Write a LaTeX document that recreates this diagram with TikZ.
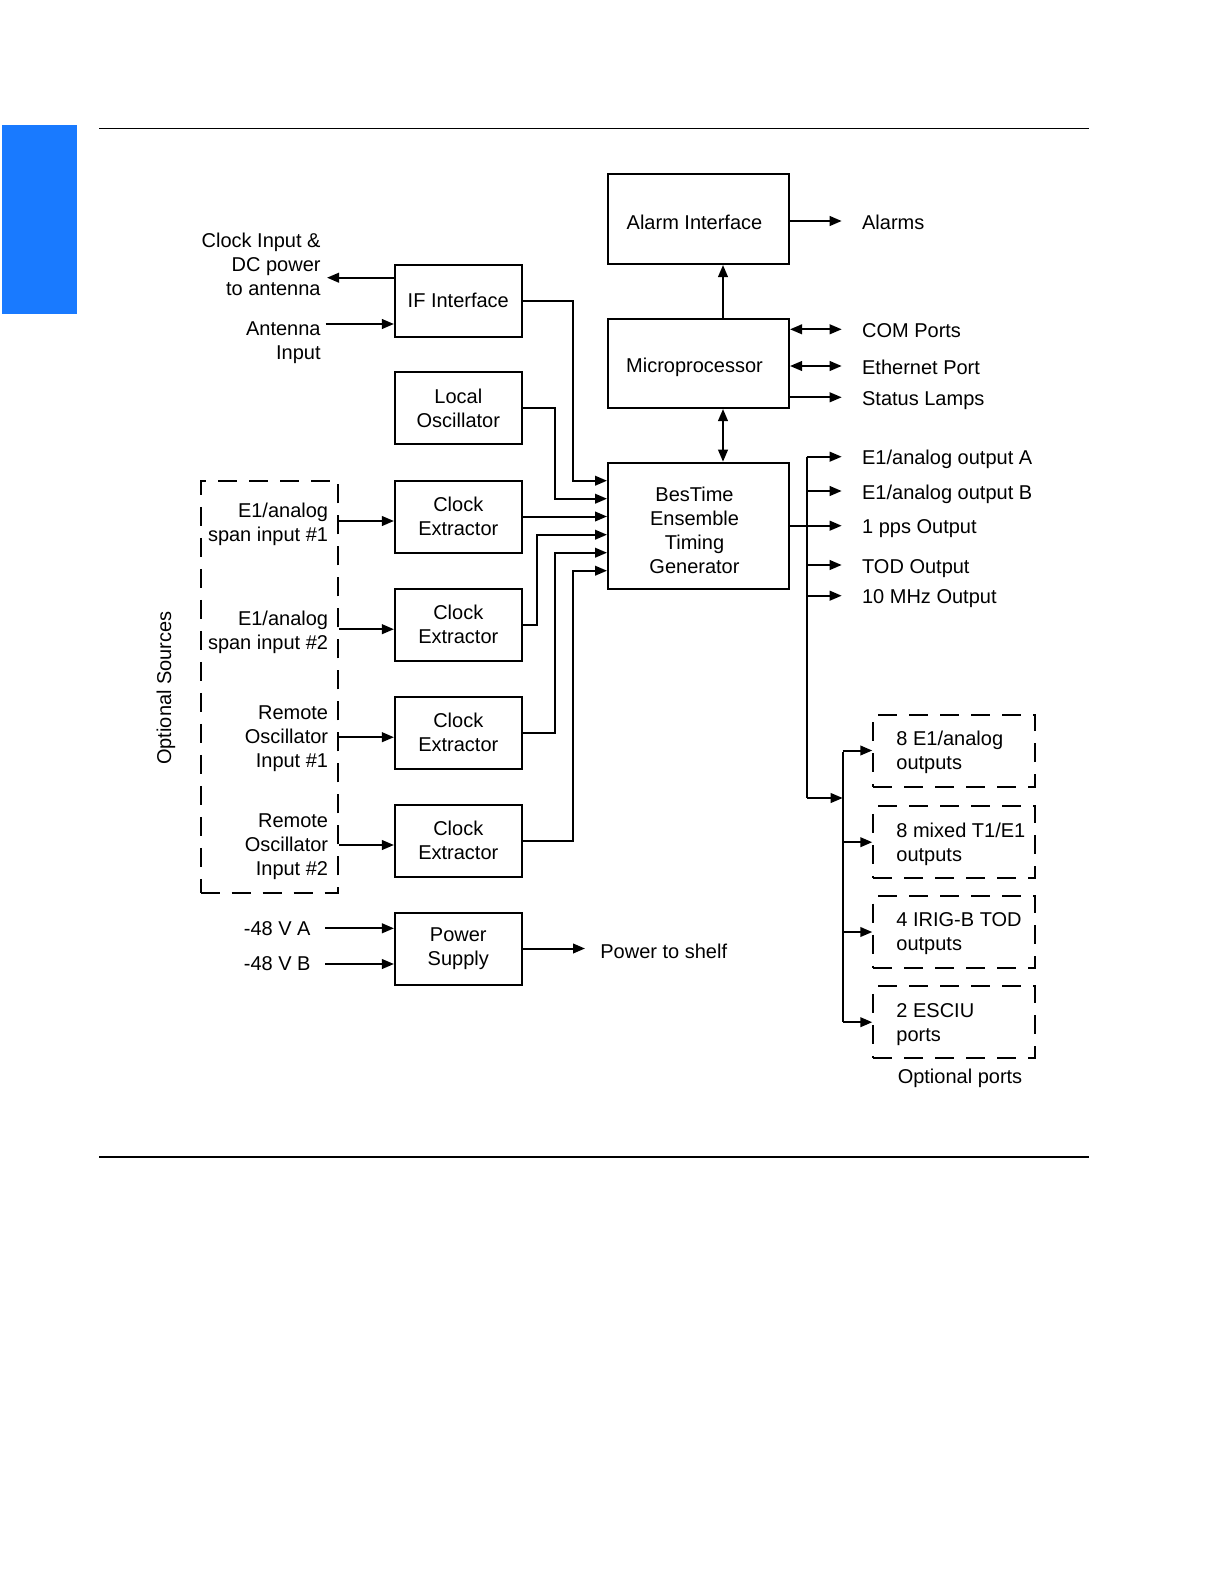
\documentclass[tikz,border=0pt]{standalone}
\usepackage{fontspec}
\setmainfont{Liberation Sans}
\usetikzlibrary{arrows.meta}
\definecolor{tabblue}{RGB}{25,122,255}
\tikzset{
  txt/.style={font=\fontsize{10}{12}\selectfont, inner sep=0pt},
  blk/.style={txt, draw, line width=1pt, align=center},
  lbox/.style={blk, minimum width=63.35pt, minimum height=36pt},
  rbox/.style={blk, minimum width=90.5pt},
  wire/.style={line width=1pt},
  conn/.style={wire, -{Triangle[length=6pt,width=4.8pt]}},
  dconn/.style={wire, {Triangle[length=6pt,width=4.8pt]}-{Triangle[length=6pt,width=4.8pt]}},
  dashbox/.style={draw, line width=1pt, dash pattern=on 9.5pt off 6pt, inner sep=0pt},
  dbox/.style={dashbox, minimum width=80.85pt, minimum height=36pt},
  lbl/.style={txt, anchor=mid west, yshift=-1.5pt},
  rtxt/.style={txt, align=center},
}
\begin{document}
\begin{tikzpicture}[x=0.5pt,y=-0.5pt]
\useasboundingbox (0,0) rectangle (1224,1584);
% page decoration
\fill[tabblue] (2,125) rectangle (77,313.7);
\draw[line width=0.7pt] (99,128.7) -- (1089,128.7);
\draw[line width=0.7pt] (99,1157) -- (1089,1157);

% left column boxes
\node[lbox] (ifb) at (458.3,300.5) {IF Interface};
\node[lbox] (lo)  at (458.3,408.3) {Local\\Oscillator};
\node[lbox] (ce1) at (458.3,516.5) {Clock\\Extractor};
\node[lbox] (ce2) at (458.3,624.7) {Clock\\Extractor};
\node[lbox] (ce3) at (458.3,732.7) {Clock\\Extractor};
\node[lbox] (ce4) at (458.3,840.5) {Clock\\Extractor};
\node[lbox] (ps)  at (458.3,948.5) {Power\\Supply};

% right column boxes
\node[rbox, minimum height=45pt]   (al) at (698.5,219)   {};
\node[rbox, minimum height=44.5pt] (mp) at (698.5,363.5) {};
\node[rbox, minimum height=63pt]   (bt) at (698.5,525.7) {};
\node[rtxt] (alt) at ([xshift=-2pt,yshift=-1.5pt]al.center) {Alarm Interface};
\node[rtxt] (mpt) at ([xshift=-2pt,yshift=-2pt]mp.center) {Microprocessor};
\node[rtxt] (btt) at ([xshift=-2pt,yshift=-2.5pt]bt.center) {BesTime\\Ensemble\\Timing\\Generator};

% optional sources
\node[dashbox, minimum width=68.65pt, minimum height=206.15pt] (opt) at (269.35,686.85) {};
\node[txt, rotate=90] (optl) at (166,688) {Optional Sources};
\node[txt, anchor=east, align=right] (s1) at (328.5,524) {E1/analog\\span input \#1};
\node[txt, anchor=east, align=right] (s2) at (328.5,632) {E1/analog\\span input \#2};
\node[txt, anchor=east, align=right] (s3) at (328.5,739) {Remote\\Oscillator\\Input \#1};
\node[txt, anchor=east, align=right] (s4) at (328.5,847) {Remote\\Oscillator\\Input \#2};
\coordinate (in1) at ([yshift=-2.25pt]ce1.west);
\coordinate (in2) at ([yshift=-2.25pt]ce2.west);
\coordinate (in3) at ([yshift=-2.25pt]ce3.west);
\coordinate (in4) at ([yshift=-2.25pt]ce4.west);
\draw[conn] (opt.east |- in1) -- (in1);
\draw[conn] (opt.east |- in2) -- (in2);
\draw[conn] (opt.east |- in3) -- (in3);
\draw[conn] (opt.east |- in4) -- (in4);

% antenna
\node[txt, anchor=east, align=right] (ckl) at (321,264) {Clock Input \&\\DC power\\to antenna};
\node[txt, anchor=east, align=right] (antl) at (321,342.5) {Antenna\\Input};
\coordinate (ckE) at (327,277.7);
\coordinate (antS) at (325.7,324);
\draw[conn] (ifb.west |- ckE) -- (ckE);
\draw[conn] (antS) -- (ifb.west |- antS);

% inputs to BesTime
\draw[conn] (ifb.east) -- ++(50.65,0) |- ([yshift=22.5pt]bt.west);
\draw[conn] (lo.east) -- ++(32.65,0) |- ([yshift=13.5pt]bt.west);
\draw[conn] (ce1.east) -- (bt.west |- ce1.east);
\draw[conn] (ce2.east) -- ++(14.05,0) |- ([yshift=-4.5pt]bt.west);
\draw[conn] (ce3.east) -- ++(32.65,0) |- ([yshift=-13.5pt]bt.west);
\draw[conn] (ce4.east) -- ++(50.65,0) |- ([yshift=-22.5pt]bt.west);

% microprocessor links
\draw[conn] ([xshift=12.25pt]mp.north) -- ([xshift=12.25pt]al.south);
\draw[dconn] ([xshift=12.25pt]mp.south) -- ([xshift=12.25pt]bt.north);

% right labels
\node[lbl] (alarms) at (861.7,221) {Alarms};
\node[lbl] (com) at (861.7,329.3) {COM Ports};
\node[lbl] (eth) at (861.7,366) {Ethernet Port};
\node[lbl] (lamps) at (861.7,397.3) {Status Lamps};
\coordinate (alE) at (841.7,221);
\coordinate (comE) at (841.7,329.3);
\coordinate (ethE) at (841.7,366);
\coordinate (lampE) at (841.7,397.3);
\draw[conn] (al.east |- alE) -- (alE);
\draw[dconn] (mp.east |- comE) -- (comE);
\draw[dconn] (mp.east |- ethE) -- (ethE);
\draw[conn] (mp.east |- lampE) -- (lampE);

% outputs
\node[lbl] (oa) at (861.7,456.7) {E1/analog output A};
\node[lbl] (ob) at (861.7,491) {E1/analog output B};
\node[lbl] (opps) at (861.7,525.7) {1 pps Output};
\node[lbl] (otod) at (861.7,565) {TOD Output};
\node[lbl] (o10) at (861.7,595.7) {10 MHz Output};
\coordinate (busT) at (806.7,456.7);
\coordinate (busB) at (806.7,798);
\coordinate (oaE) at (841.7,456.7);
\coordinate (obE) at (841.7,491);
\coordinate (oppsE) at (841.7,525.7);
\coordinate (otodE) at (841.7,565);
\coordinate (o10E) at (841.7,595.7);
\draw[conn] (bt.east) -- (oppsE);
\draw[wire] (busT) -- (busB);
\draw[conn] (busT) -- (oaE);
\draw[conn] (busT |- obE) -- (obE);
\draw[conn] (busT |- otodE) -- (otodE);
\draw[conn] (busT |- o10E) -- (o10E);

% optional ports
\node[dbox] (d1) at (954.15,750.5) {};
\node[dbox] (d2) at (954.15,842.2) {};
\node[dbox] (d3) at (954.15,932) {};
\node[dbox] (d4) at (954.15,1022.2) {};
\node[txt, anchor=west, align=left] (t1) at ([xshift=11.85pt,yshift=-1pt]d1.west) {8 E1/analog\\outputs};
\node[txt, anchor=west, align=left] (t2) at ([xshift=11.85pt,yshift=-1pt]d2.west) {8 mixed T1/E1\\outputs};
\node[txt, anchor=west, align=left] (t3) at ([xshift=11.85pt,yshift=-1pt]d3.west) {4 IRIG-B TOD\\outputs};
\node[txt, anchor=west, align=left] (t4) at ([xshift=11.85pt,yshift=-1pt]d4.west) {2 ESCIU\\ports};
\node[txt] (optp) at (960,1078.7) {Optional ports};
\coordinate (bus2T) at (842.7,751.7);
\coordinate (bus2B) at (842.7,1021.7);
\draw[conn] (busB) -- (bus2T |- busB);
\draw[wire] (bus2T) -- (bus2B);
\draw[conn] (bus2T |- d1.west) -- (d1.west);
\draw[conn] (bus2T |- d2.west) -- (d2.west);
\draw[conn] (bus2T |- d3.west) -- (d3.west);
\draw[conn] (bus2T |- d4.west) -- (d4.west);

% power
\node[txt, anchor=east] (va) at (311,929) {-48 V A};
\node[txt, anchor=east] (vb) at (311,964) {-48 V B};
\node[lbl] (shelf) at (600,950) {Power to shelf};
\coordinate (vaS) at (325,928.3);
\coordinate (vbS) at (325,964);
\coordinate (shelfE) at (585,948.5);
\draw[conn] (vaS) -- (ps.west |- vaS);
\draw[conn] (vbS) -- (ps.west |- vbS);
\draw[conn] (ps.east) -- (shelfE);
\end{tikzpicture}
\end{document}
